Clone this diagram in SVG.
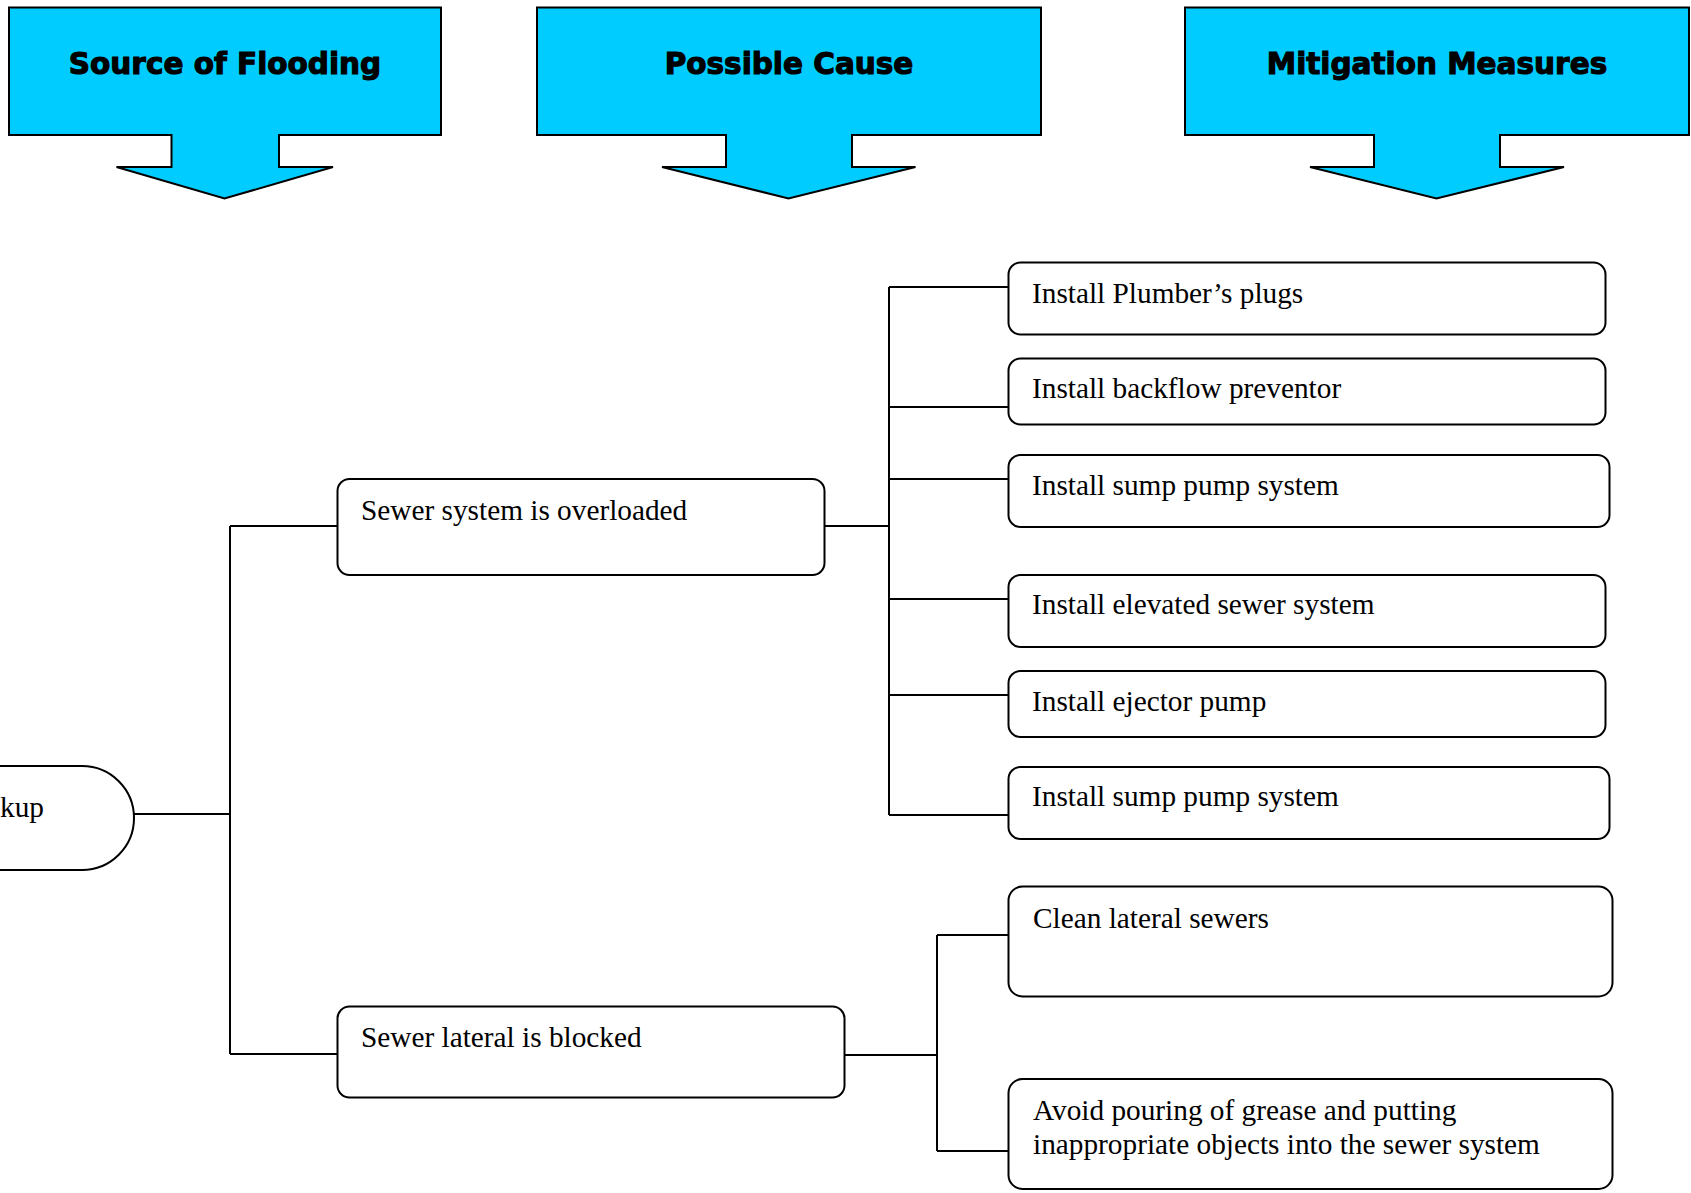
<svg xmlns="http://www.w3.org/2000/svg" width="1691" height="1193" viewBox="0 0 1691 1193">
<style>
.hdr{fill:#00CCFF;stroke:#000;stroke-width:2;stroke-linejoin:miter}
.htxt{font-family:"DejaVu Sans","Liberation Sans",sans-serif;font-weight:bold;font-size:29.5px;fill:#000;stroke:#000;stroke-width:1.1;text-anchor:middle}
.box{fill:#fff;stroke:#000;stroke-width:2}
.txt{font-family:"Liberation Serif","Times New Roman",serif;font-size:29.3px;fill:#000}
.conn{fill:none;stroke:#000;stroke-width:2}
</style>
<rect width="1691" height="1193" fill="#fff"/>
<g id="header-source">
<polygon class="hdr" points="9,7.5 441,7.5 441,135 279,135 279,167 333,167 224.5,198.5 116.5,167 171.5,167 171.5,135 9,135"/>
<text class="htxt" x="225" y="74">Source of Flooding</text>
</g>
<g id="header-cause">
<polygon class="hdr" points="537,7.5 1041,7.5 1041,135 852,135 852,167 915.5,167 788.5,198.5 662,167 726,167 726,135 537,135"/>
<text class="htxt" x="789" y="74">Possible Cause</text>
</g>
<g id="header-mitigation">
<polygon class="hdr" points="1185,7.5 1689,7.5 1689,135 1500,135 1500,167 1564,167 1436.5,198.5 1310,167 1374,167 1374,135 1185,135"/>
<text class="htxt" x="1437" y="74">Mitigation Measures</text>
</g>
<g id="connectors">
<path class="conn" d="M134,814 H230 M230,526 V1054 M230,526 H338 M230,1054 H338"/>
<path class="conn" d="M824,526 H889 M889,287 V815 M889,287 H1008 M889,407 H1008 M889,479 H1008 M889,599 H1008 M889,695 H1008 M889,815 H1008"/>
<path class="conn" d="M841,1055 H937 M937,935 V1151 M937,935 H1008 M937,1151 H1008"/>
</g>
<g id="node-backup">
<path class="box" d="M-20,766 H82 A52,52 0 0 1 82,870 H-20 Z"/>
<text class="txt" x="0" y="817">kup</text>
</g>
<g id="node-overloaded">
<rect class="box" x="337.5" y="479" width="487" height="96" rx="12"/>
<text class="txt" x="361" y="520">Sewer system is overloaded</text>
</g>
<g id="node-lateral">
<rect class="box" x="337.5" y="1006.5" width="507" height="91" rx="12"/>
<text class="txt" x="361" y="1047">Sewer lateral is blocked</text>
</g>
<g id="node-plugs">
<rect class="box" x="1008.5" y="262.5" width="597" height="72" rx="12"/>
<text class="txt" x="1032" y="303">Install Plumber’s plugs</text>
</g>
<g id="node-backflow">
<rect class="box" x="1008.5" y="358.5" width="597" height="66" rx="12"/>
<text class="txt" x="1032" y="398">Install backflow preventor</text>
</g>
<g id="node-sump1">
<rect class="box" x="1008.5" y="455" width="601" height="72" rx="12"/>
<text class="txt" x="1032" y="495">Install sump pump system</text>
</g>
<g id="node-elevated">
<rect class="box" x="1008.5" y="575" width="597" height="72" rx="12"/>
<text class="txt" x="1032" y="614">Install elevated sewer system</text>
</g>
<g id="node-ejector">
<rect class="box" x="1008.5" y="671" width="597" height="66" rx="12"/>
<text class="txt" x="1032" y="711">Install ejector pump</text>
</g>
<g id="node-sump2">
<rect class="box" x="1008.5" y="767" width="601" height="72" rx="12"/>
<text class="txt" x="1032" y="806">Install sump pump system</text>
</g>
<g id="node-clean">
<rect class="box" x="1008.5" y="886.5" width="604" height="110" rx="14"/>
<text class="txt" x="1033" y="928">Clean lateral sewers</text>
</g>
<g id="node-avoid">
<rect class="box" x="1008.5" y="1079" width="604" height="110" rx="14"/>
<text class="txt" x="1033" y="1120">Avoid pouring of grease and putting</text>
<text class="txt" x="1033" y="1154">inappropriate objects into the sewer system</text>
</g>
</svg>
